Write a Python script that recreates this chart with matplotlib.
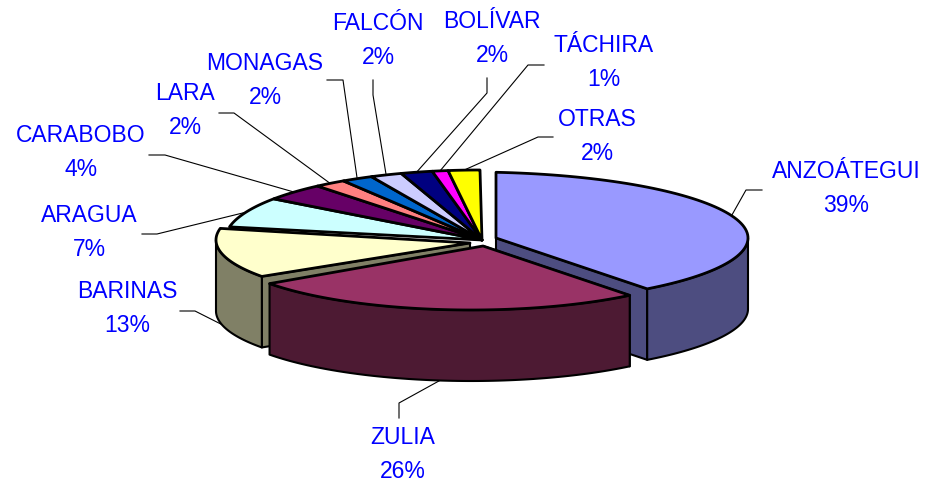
import matplotlib
matplotlib.use("Agg")
import matplotlib.pyplot as plt
import numpy as np
from matplotlib.patches import Polygon

names = ["ANZOÁTEGUI", "ZULIA", "BARINAS", "ARAGUA", "CARABOBO", "LARA",
         "MONAGAS", "FALCÓN", "BOLÍVAR", "TÁCHIRA", "OTRAS"]
percent = [39, 26, 13, 7, 4, 2, 2, 2, 2, 1, 2]

top_colors = ["#9999FF", "#993366", "#FFFFCC", "#CCFFFF", "#660066", "#FF8080",
              "#0066CC", "#CCCCFF", "#000080", "#FF00FF", "#FFFF00"]
side_colors = {0: "#4D4D80", 1: "#4D1A33", 2: "#808066"}

# ellipse per slice: apex x, apex y, centre x, centre y, rx, ry
small = (482, 240, 480, 240, 255, 70)
shapes = [(496, 238, 470, 238, 278, 66),
          (483, 246, 471, 246, 249, 64),
          (470, 243, 456, 240, 240, 62)] + [small] * 8
depth = 71
text_blue = "#0000FF"

# label centre x, first line y, leader elbow points
label_layout = {
    "ANZOÁTEGUI": (846, 171, [(746, 190), (762, 190)]),
    "ZULIA": (403, 437, [(399, 403), (399, 418)]),
    "BARINAS": (127, 291, [(195, 311), (180, 311)]),
    "ARAGUA": (89, 215, [(157, 234), (142, 234)]),
    "CARABOBO": (81, 135, [(165, 155), (149, 155)]),
    "LARA": (185, 93, [(234, 113), (219, 113)]),
    "MONAGAS": (265, 62, [(343, 80), (327, 80)]),
    "FALCÓN": (378, 23, [(373, 95), (373, 80)]),
    "BOLÍVAR": (492, 21, [(487, 93), (487, 78)]),
    "TÁCHIRA": (604, 45, [(528, 65), (544, 65)]),
    "OTRAS": (597, 118, [(538, 137), (553, 137)]),
}

plt.rcParams["font.family"] = ["Liberation Sans", "DejaVu Sans"]

fig = plt.figure(figsize=(9.25, 4.83), dpi=100)
ax = fig.add_axes([0, 0, 1, 1])
ax.set_xlim(0, 925)
ax.set_ylim(483, 0)
ax.axis("off")

bounds = np.cumsum([0] + percent) * 3.6


def rim(i, a, b):
    ax0, ay0, cx, cy, rx, ry = shapes[i]
    t = np.radians(np.linspace(a, b, 80))
    return np.column_stack([cx + rx * np.sin(t), cy - ry * np.cos(t)])


def layer(i):
    return {0: 3.5, 1: 4, 2: 2}.get(i, 3)


def draw_slice(i):
    ax0, ay0, cx, cy, rx, ry = shapes[i]
    a, b = bounds[i], bounds[i + 1]
    if i == 0:
        # the exploded slice starts where its ellipse passes above the apex
        a = np.degrees(np.arcsin((ax0 - cx) / rx))
    pts = rim(i, a, b)
    down = np.array([0, depth])
    apex = np.array([ax0, ay0])
    if i in side_colors:
        arc = rim(i, max(a, 90), min(b, 270))
        # cut face towards the neighbouring slice
        cut = pts[-1] if i == 0 else pts[0]
        ax.add_patch(Polygon([apex, cut, cut + down, apex + down], fc=side_colors[i],
                             ec="black", lw=1.5, joinstyle="round", zorder=layer(i)))
        ax.add_patch(Polygon(np.vstack([arc, (arc + down)[::-1]]), fc=side_colors[i],
                             ec="black", lw=1.5, joinstyle="round", zorder=layer(i)))
    ax.add_patch(Polygon(np.vstack([apex, pts]), fc=top_colors[i], ec="black",
                         lw=2.0, joinstyle="round", zorder=layer(i) + 0.2))


for i in range(len(names)):
    draw_slice(i)

for i, name in enumerate(names):
    x, y, elbow = label_layout[name]
    mid = (bounds[i] + bounds[i + 1]) / 2
    start = rim(i, mid, mid)[0]
    if 100 < mid < 265:
        start = start + [0, depth]
    line = np.vstack([start, elbow])
    ax.plot(line[:, 0], line[:, 1], color="black", lw=0.8, zorder=1)
    ax.text(x, y + 1, name, color=text_blue, fontsize=16.5, ha="center", va="center")
    ax.text(x, y + 35, "%d%%" % percent[i], color=text_blue, fontsize=16.5,
            ha="center", va="center")

fig.savefig("out.png", dpi=100, facecolor="white")
